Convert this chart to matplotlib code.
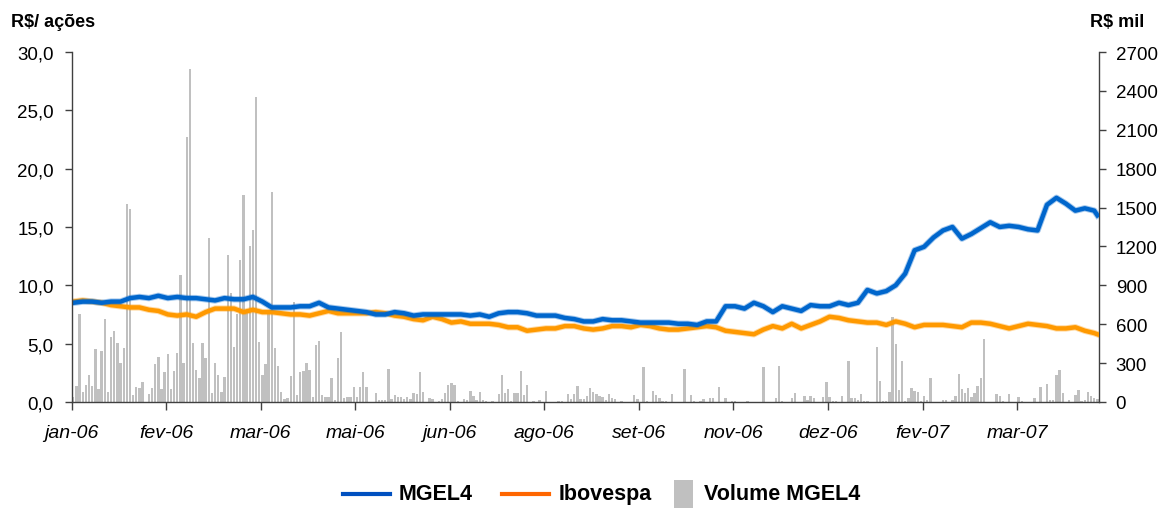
import numpy as np
import matplotlib
matplotlib.use("Agg")
from matplotlib import pyplot as plt
from matplotlib.lines import Line2D
from matplotlib.patches import Rectangle
import matplotlib.patheffects as pe

plt.rcParams["font.family"] = ["Liberation Sans", "DejaVu Sans"]

# x tick labels (one every 30 trading days)
month_labels = ["jan-06", "fev-06", "mar-06", "mai-06", "jun-06", "ago-06",
                "set-06", "nov-06", "dez-06", "fev-07", "mar-07"]

# daily traded volume MGEL4 (R$ mil), one value per trading day
volume = [
    36, 126, 680, 80, 130, 210, 120, 410, 100, 390, 640, 80, 500, 545, 455, 300, 415, 1530, 1490, 55,
    115, 105, 150, 0, 62, 108, 293, 347, 100, 234, 370, 100, 242, 378, 980, 300, 2047, 2569, 455, 247,
    185, 455, 340, 1265, 70, 300, 208, 80, 190, 1134, 840, 424, 680, 1095, 1597, 694, 1203, 1327, 2353, 463,
    208, 293, 694, 1620, 417, 278, 77, 23, 31, 200, 771, 54, 231, 239, 300, 247, 39, 440, 470, 54,
    39, 39, 185, 15, 340, 540, 31, 39, 39, 116, 39, 116, 231, 116, 0, 0, 69, 15, 15, 15,
    255, 23, 54, 39, 39, 23, 39, 23, 69, 62, 231, 77, 0, 31, 23, 0, 8, 23, 69, 131,
    147, 131, 8, 0, 23, 15, 85, 46, 15, 77, 15, 8, 0, 8, 0, 62, 208, 69, 100, 8,
    69, 69, 239, 54, 131, 0, 8, 0, 15, 0, 85, 0, 0, 0, 8, 8, 0, 62, 23, 62,
    123, 23, 23, 46, 108, 77, 62, 46, 39, 15, 62, 31, 23, 0, 8, 0, 0, 0, 54, 23,
    0, 270, 8, 0, 85, 54, 31, 8, 8, 0, 62, 0, 0, 0, 254, 0, 54, 8, 0, 8,
    23, 0, 31, 31, 0, 116, 0, 31, 0, 8, 8, 0, 0, 0, 8, 0, 0, 0, 0, 268,
    0, 0, 0, 30, 276, 8, 0, 0, 31, 69, 0, 0, 46, 15, 46, 31, 0, 0, 39, 150,
    39, 8, 8, 0, 46, 0, 314, 31, 31, 15, 62, 8, 8, 0, 0, 422, 162, 8, 8, 77,
    653, 447, 93, 314, 8, 31, 108, 85, 77, 8, 46, 15, 185, 0, 0, 0, 15, 15, 0, 15,
    46, 216, 100, 69, 108, 39, 69, 123, 185, 486, 0, 0, 0, 62, 46, 8, 0, 62, 0, 0,
    39, 8, 0, 0, 0, 31, 0, 116, 0, 139, 15, 15, 208, 247, 69, 0, 15, 0, 54, 93,
    8, 15, 77, 46, 31, 23,
]

# prices (R$/ação) read every 3 trading days, plus the last day
mgel4 = [
    8.5, 8.6, 8.6, 8.5, 8.6, 8.6, 8.9, 9.0, 8.9, 9.1,
    8.9, 9.0, 8.9, 8.9, 8.8, 8.7, 8.9, 8.8, 8.8, 9.0,
    8.6, 8.1, 8.1, 8.1, 8.2, 8.2, 8.5, 8.1, 8.0, 7.9,
    7.8, 7.7, 7.5, 7.5, 7.7, 7.6, 7.4, 7.5, 7.5, 7.5,
    7.5, 7.5, 7.4, 7.5, 7.3, 7.6, 7.7, 7.7, 7.6, 7.4,
    7.4, 7.4, 7.2, 7.1, 6.9, 6.9, 7.1, 7.0, 7.0, 6.9,
    6.8, 6.8, 6.8, 6.8, 6.7, 6.7, 6.6, 6.9, 6.9, 8.2,
    8.2, 8.0, 8.5, 8.2, 7.7, 8.2, 8.0, 7.8, 8.3, 8.2,
    8.2, 8.5, 8.3, 8.5, 9.6, 9.3, 9.5, 10.0, 11.0, 13.0,
    13.3, 14.1, 14.7, 15.0, 14.0, 14.4, 14.9, 15.4, 15.0, 15.1,
    15.0, 14.8, 14.7, 16.9, 17.5, 17.0, 16.4, 16.6, 16.4, 16.0,
]
ibovespa = [
    8.6, 8.7, 8.6, 8.5, 8.3, 8.2, 8.1, 8.1, 7.9, 7.8,
    7.5, 7.4, 7.5, 7.3, 7.7, 8.0, 8.0, 8.0, 7.7, 7.9,
    7.7, 7.7, 7.6, 7.5, 7.5, 7.4, 7.6, 7.8, 7.6, 7.6,
    7.6, 7.6, 7.7, 7.6, 7.4, 7.3, 7.1, 7.0, 7.3, 7.1,
    6.8, 6.9, 6.7, 6.7, 6.7, 6.6, 6.4, 6.4, 6.1, 6.2,
    6.3, 6.3, 6.5, 6.5, 6.3, 6.2, 6.3, 6.5, 6.5, 6.4,
    6.6, 6.5, 6.3, 6.2, 6.2, 6.3, 6.4, 6.5, 6.4, 6.1,
    6.0, 5.9, 5.8, 6.2, 6.5, 6.3, 6.7, 6.3, 6.6, 6.9,
    7.3, 7.2, 7.0, 6.9, 6.8, 6.8, 6.6, 6.9, 6.7, 6.4,
    6.6, 6.6, 6.6, 6.5, 6.4, 6.8, 6.8, 6.7, 6.5, 6.3,
    6.5, 6.7, 6.6, 6.5, 6.3, 6.3, 6.4, 6.1, 5.9, 5.8,
]

n = len(volume)
days = np.arange(n)
price_days = np.append(np.arange(0, n, 3), n - 1)

blue = "#0066CC"
orange = "#FF9900"
gray = "#C0C0C0"
axis_col = "#404040"

W, H = 1168, 510
fig = plt.figure(figsize=(W / 100, H / 100), dpi=100)
ax = fig.add_axes([0.0614, 0.210, 0.8795, 0.686])
ax2 = ax.twinx()
ax2.set_zorder(ax.get_zorder() - 1)
ax.patch.set_visible(False)

# volume bars (right axis)
ax2.bar(days, volume, width=0.75, color=gray, linewidth=0)
ax2.set_ylim(0, 2700)
ax2.set_yticks(np.arange(0, 2701, 300))

# price lines (left axis)
halo = lambda c: [pe.Stroke(linewidth=4.6, foreground=c, alpha=0.35), pe.Normal()]
ax.plot(price_days, ibovespa, color=orange, lw=3.2, solid_joinstyle="round",
        path_effects=halo(orange))
ax.plot(price_days, mgel4, color=blue, lw=3.2, solid_joinstyle="round",
        path_effects=halo(blue))
ax.set_ylim(0, 30)
ax.set_yticks(np.arange(0, 30.1, 5))
ax.set_yticklabels([f"{v:.1f}".replace(".", ",") for v in np.arange(0, 30.1, 5)])

ax.set_xlim(-0.5, n - 0.5)
tick_pos = np.arange(len(month_labels)) * 30 - 0.5
ax.set_xticks(tick_pos)
ax.set_xticklabels(month_labels, fontstyle="italic")

for a in (ax, ax2):
    a.spines["top"].set_visible(False)
    for s in ("left", "right", "bottom"):
        a.spines[s].set_color(axis_col)
        a.spines[s].set_linewidth(1.0)
    a.tick_params(colors=axis_col, labelcolor="black", labelsize=13.5, length=5, width=1)
ax.spines["right"].set_visible(False)
ax2.spines["left"].set_visible(False)
ax2.spines["bottom"].set_visible(False)
ax.tick_params(axis="x", pad=10, length=6, labelsize=14)
ax.tick_params(axis="y", pad=8)
ax2.tick_params(axis="y", pad=7)

fig.text(0.009, 0.955, "R$/ ações", fontsize=13, fontweight="bold", ha="left", va="center")
fig.text(0.980, 0.955, "R$ mil", fontsize=13, fontweight="bold", ha="right", va="center")

# legend drawn by hand so each key sits where the Excel legend puts it
ly = 1 - 495 / H
leg_font = dict(fontsize=15.5, fontweight="bold", va="center", ha="left")
fig.add_artist(Line2D([343 / W, 390 / W], [ly, ly], color="#0050C0", lw=3,
                      transform=fig.transFigure))
fig.text(399 / W, ly, "MGEL4", **leg_font)
fig.add_artist(Line2D([502 / W, 549 / W], [ly, ly], color="#FF6600", lw=3,
                      transform=fig.transFigure))
fig.text(559 / W, ly, "Ibovespa", **leg_font)
fig.add_artist(Rectangle((674 / W, 1 - 509 / H), 19 / W, 28 / H, facecolor=gray,
                         edgecolor="none", transform=fig.transFigure))
fig.text(704 / W, ly, "Volume MGEL4", **leg_font)

fig.savefig("out.png", dpi=100)
